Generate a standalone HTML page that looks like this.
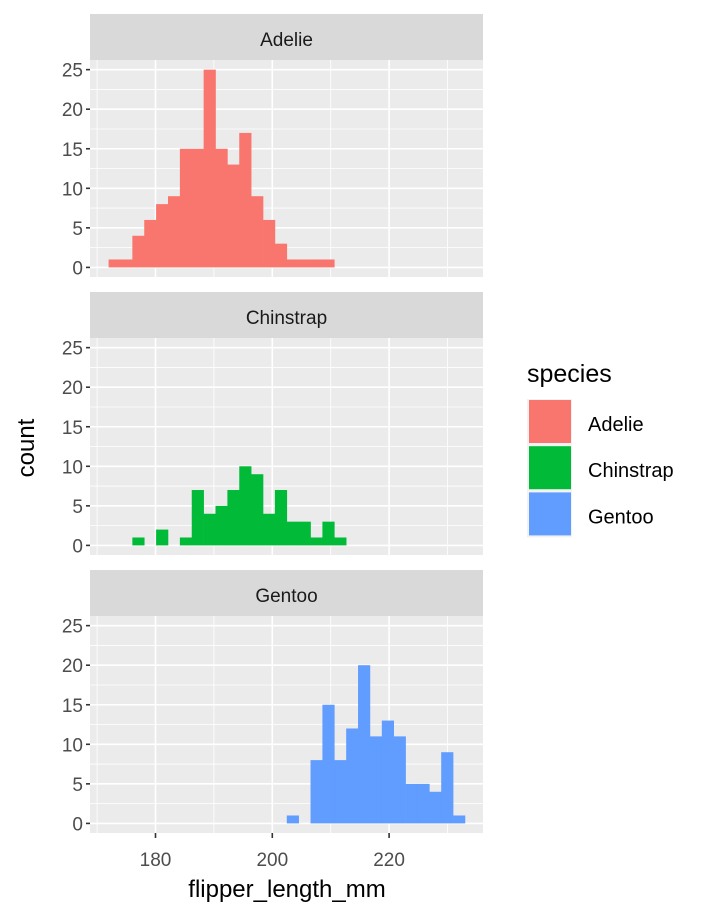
<!DOCTYPE html>
<html><head><meta charset="utf-8"><style>
body{margin:0;background:#fff}
svg{display:block;font-family:"Liberation Sans",Arial,sans-serif}
</style></head><body>
<svg id="chart" width="720" height="921" viewBox="0 0 720 921" xmlns="http://www.w3.org/2000/svg"></svg>
<script>
const species = ["Adelie","Chinstrap","Gentoo"];
const colors = ["#F8766D","#00BA38","#619CFF"];
const adelieCounts = [1,1,4,6,8,9,15,15,25,15,13,17,9,6,3,1,1,1,1,0,0,0,0,0,0,0,0,0,0,0];
const chinstrapCounts = [0,0,1,0,2,0,1,7,4,5,7,10,9,4,7,3,3,1,3,1,0,0,0,0,0,0,0,0,0,0];
const gentooCounts = [0,0,0,0,0,0,0,0,0,0,0,0,0,0,0,1,0,8,15,8,12,20,11,13,11,5,5,4,9,1];
const binStart = 171.97;
const binWidth = 2.034;
const xTicks = [180,200,220];
const yTicks = [0,5,10,15,20,25];

const NS="http://www.w3.org/2000/svg";
const svg=document.getElementById('chart');
function el(tag,attrs,parent){const e=document.createElementNS(NS,tag);for(const k in attrs)e.setAttribute(k,attrs[k]);(parent||svg).appendChild(e);return e;}
const PL=90,PR=483;
const x=v=>155.5+(v-180)*5.84;
const panels=[{top:60,bottom:277,stripTop:14},{top:338,bottom:555,stripTop:292},{top:616,bottom:833,stripTop:570}];
const allCounts=[adelieCounts,chinstrapCounts,gentooCounts];

panels.forEach((p,i)=>{
  const y=c=>p.bottom-9.6-c*7.91;
  const g=el('g',{});
  
  
  const strip=el('rect',{x:PL,y:p.stripTop,width:PR-PL,height:p.top-p.stripTop,fill:'#d9d9d9'},g);
  
  
  const st=el('text',{x:(PL+PR)/2,y:(p.stripTop+p.top)/2+9,'text-anchor':'middle','font-size':'19',fill:'#1a1a1a'},g);
  st.textContent=species[i];
  
  
  el('rect',{x:PL,y:p.top,width:PR-PL,height:p.bottom-p.top,fill:'#ebebeb'},g);
  for(let v=170;v<=230;v+=20){const X=x(v);if(X>PL&&X<PR)el('line',{x1:X,x2:X,y1:p.top,y2:p.bottom,stroke:'#fff','stroke-width':0.8},g);}
  for(let c=2.5;c<=25;c+=5){el('line',{x1:PL,x2:PR,y1:y(c),y2:y(c),stroke:'#fff','stroke-width':0.8},g);}
  xTicks.forEach(v=>el('line',{x1:x(v),x2:x(v),y1:p.top,y2:p.bottom,stroke:'#fff','stroke-width':1.6},g));
  yTicks.forEach(c=>{
    el('line',{x1:PL,x2:PR,y1:y(c),y2:y(c),stroke:'#fff','stroke-width':1.6},g);
    el('line',{x1:PL-4,x2:PL,y1:y(c),y2:y(c),stroke:'#333','stroke-width':1.6},g);
    const t=el('text',{x:PL-7,y:y(c)+7,'text-anchor':'end','font-size':'19',fill:'#4d4d4d'},g);
    t.textContent=c;
    
    
  });
  allCounts[i].forEach((c,k)=>{
    if(!c)return;
    const x0=x(binStart+k*binWidth),x1=x(binStart+(k+1)*binWidth);
    const r=el('rect',{x:x0,y:y(c),width:x1-x0+0.3,height:y(0)-y(c),fill:colors[i]},g);
    
    
  });
});
xTicks.forEach(v=>{
  el('line',{x1:x(v),x2:x(v),y1:833,y2:838,stroke:'#333','stroke-width':1.6});
  const t=el('text',{x:x(v),y:866,'text-anchor':'middle','font-size':'19',fill:'#4d4d4d'});
  t.textContent=v;
  
  
});
const xt=el('text',{x:287,y:897,'text-anchor':'middle','font-size':'24',fill:'#000'});
xt.textContent='flipper_length_mm';


const yt=el('text',{x:0,y:0,'text-anchor':'middle','font-size':'24',fill:'#000',transform:'translate(34,448) rotate(-90)'});
yt.textContent='count';


const lt=el('text',{x:527,y:382,'font-size':'25',fill:'#000'});
lt.textContent='species';


species.forEach((s,i)=>{
  const top=400+i*46.2;
  const kg=el('rect',{x:527,y:top-1,width:45,height:46,fill:'#f2f2f2'});
  
  
  const k=el('rect',{x:529,y:top,width:42,height:43,fill:colors[i]});
  
  
  const t=el('text',{x:588,y:top+31,'font-size':'20',fill:'#000'});
  t.textContent=s;
  
  
});
</script>
</body></html>
